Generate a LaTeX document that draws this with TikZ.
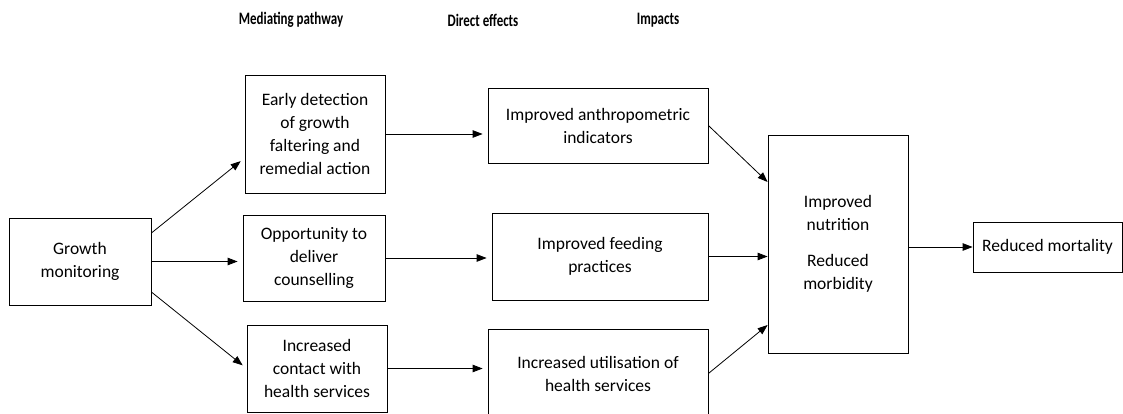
\documentclass[tikz,border=0pt]{standalone}
\usepackage{fontspec}
\setmainfont{Carlito}
\usepackage{tikz}
\usetikzlibrary{
    arrows.meta,
    calc,
    positioning
}
\newcommand{\squeeze}[1]{\scalebox{0.74}[1]{#1}}

\begin{document}
\begin{tikzpicture}[x=1pt, y=-1pt,
    box/.style={draw, line width=0.8pt, align=center, inner sep=0pt,
        font=\fontsize{17.5}{23}\selectfont},
    head/.style={font=\fontsize{17.5}{20}\selectfont\bfseries},
    link/.style={draw, line width=0.8pt, -{Triangle[length=10pt, width=7.5pt]}},
    gap/.style={shorten >=5pt}]
    \useasboundingbox (0, 0) rectangle (1123, 414);
    \node[head] (hmed) at (291, 20) {\squeeze{Mediating pathway}};
    \node[head] (hdir) at (483, 20) {\squeeze{Direct effects}};
    \node[head] (himp) at (658, 20) {\squeeze{Impacts}};
    \node[box, minimum width=142pt, minimum height=87pt] (gm) at (80, 261.5) {Growth\\monitoring};
    \node[box, minimum width=140pt, minimum height=118pt] (early) at (315, 134) {Early detection\\of growth\\faltering and\\remedial action};
    \node[box, minimum width=142pt, minimum height=86pt] (opp) at (314, 258) {Opportunity to\\deliver\\counselling};
    \node[box, minimum width=140pt, minimum height=87pt] (contact) at (317, 368.5) {Increased\\contact with\\health services};
    \node[box, minimum width=220pt, minimum height=75pt] (anthro) at (598, 125.5) {Improved anthropometric\\indicators};
    \node[box, minimum width=216pt, minimum height=87pt] (feed) at (600, 256.5) {Improved feeding\\practices};
    \node[box, minimum width=220pt, minimum height=89pt] (util) at (598, 373.5) {Increased utilisation of\\health services};
    \node[box, minimum width=140pt, minimum height=218pt] (nutr) at (838, 244) {Improved\\nutrition\\[13pt]Reduced\\morbidity};
    \node[box, minimum width=149pt, minimum height=50pt] (mort) at (1047.5, 247) {Reduced mortality};
    \draw[link, gap] ([yshift=28.5pt]gm.east) -- ([yshift=-24pt]early.west);
    \draw[link, gap] (gm.east) -- (gm.east -| opp.west);
    \draw[link, gap] ([yshift=-30.5pt]gm.east) -- (contact.west);
    \draw[link, gap] (early.east) -- (early.east -| anthro.west);
    \draw[link, gap] (opp.east) -- (opp.east -| feed.west);
    \draw[link, gap] (contact.east) -- (contact.east -| util.west);
    \draw[link] (anthro.east) -- ([yshift=62pt]nutr.west);
    \draw[link] (feed.east) -- (feed.east -| nutr.west);
    \draw[link] (util.east) -- ([yshift=-81pt]nutr.west);
    \draw[link] (mort.west -| nutr.east) -- (mort.west);
\end{tikzpicture}
\end{document}
